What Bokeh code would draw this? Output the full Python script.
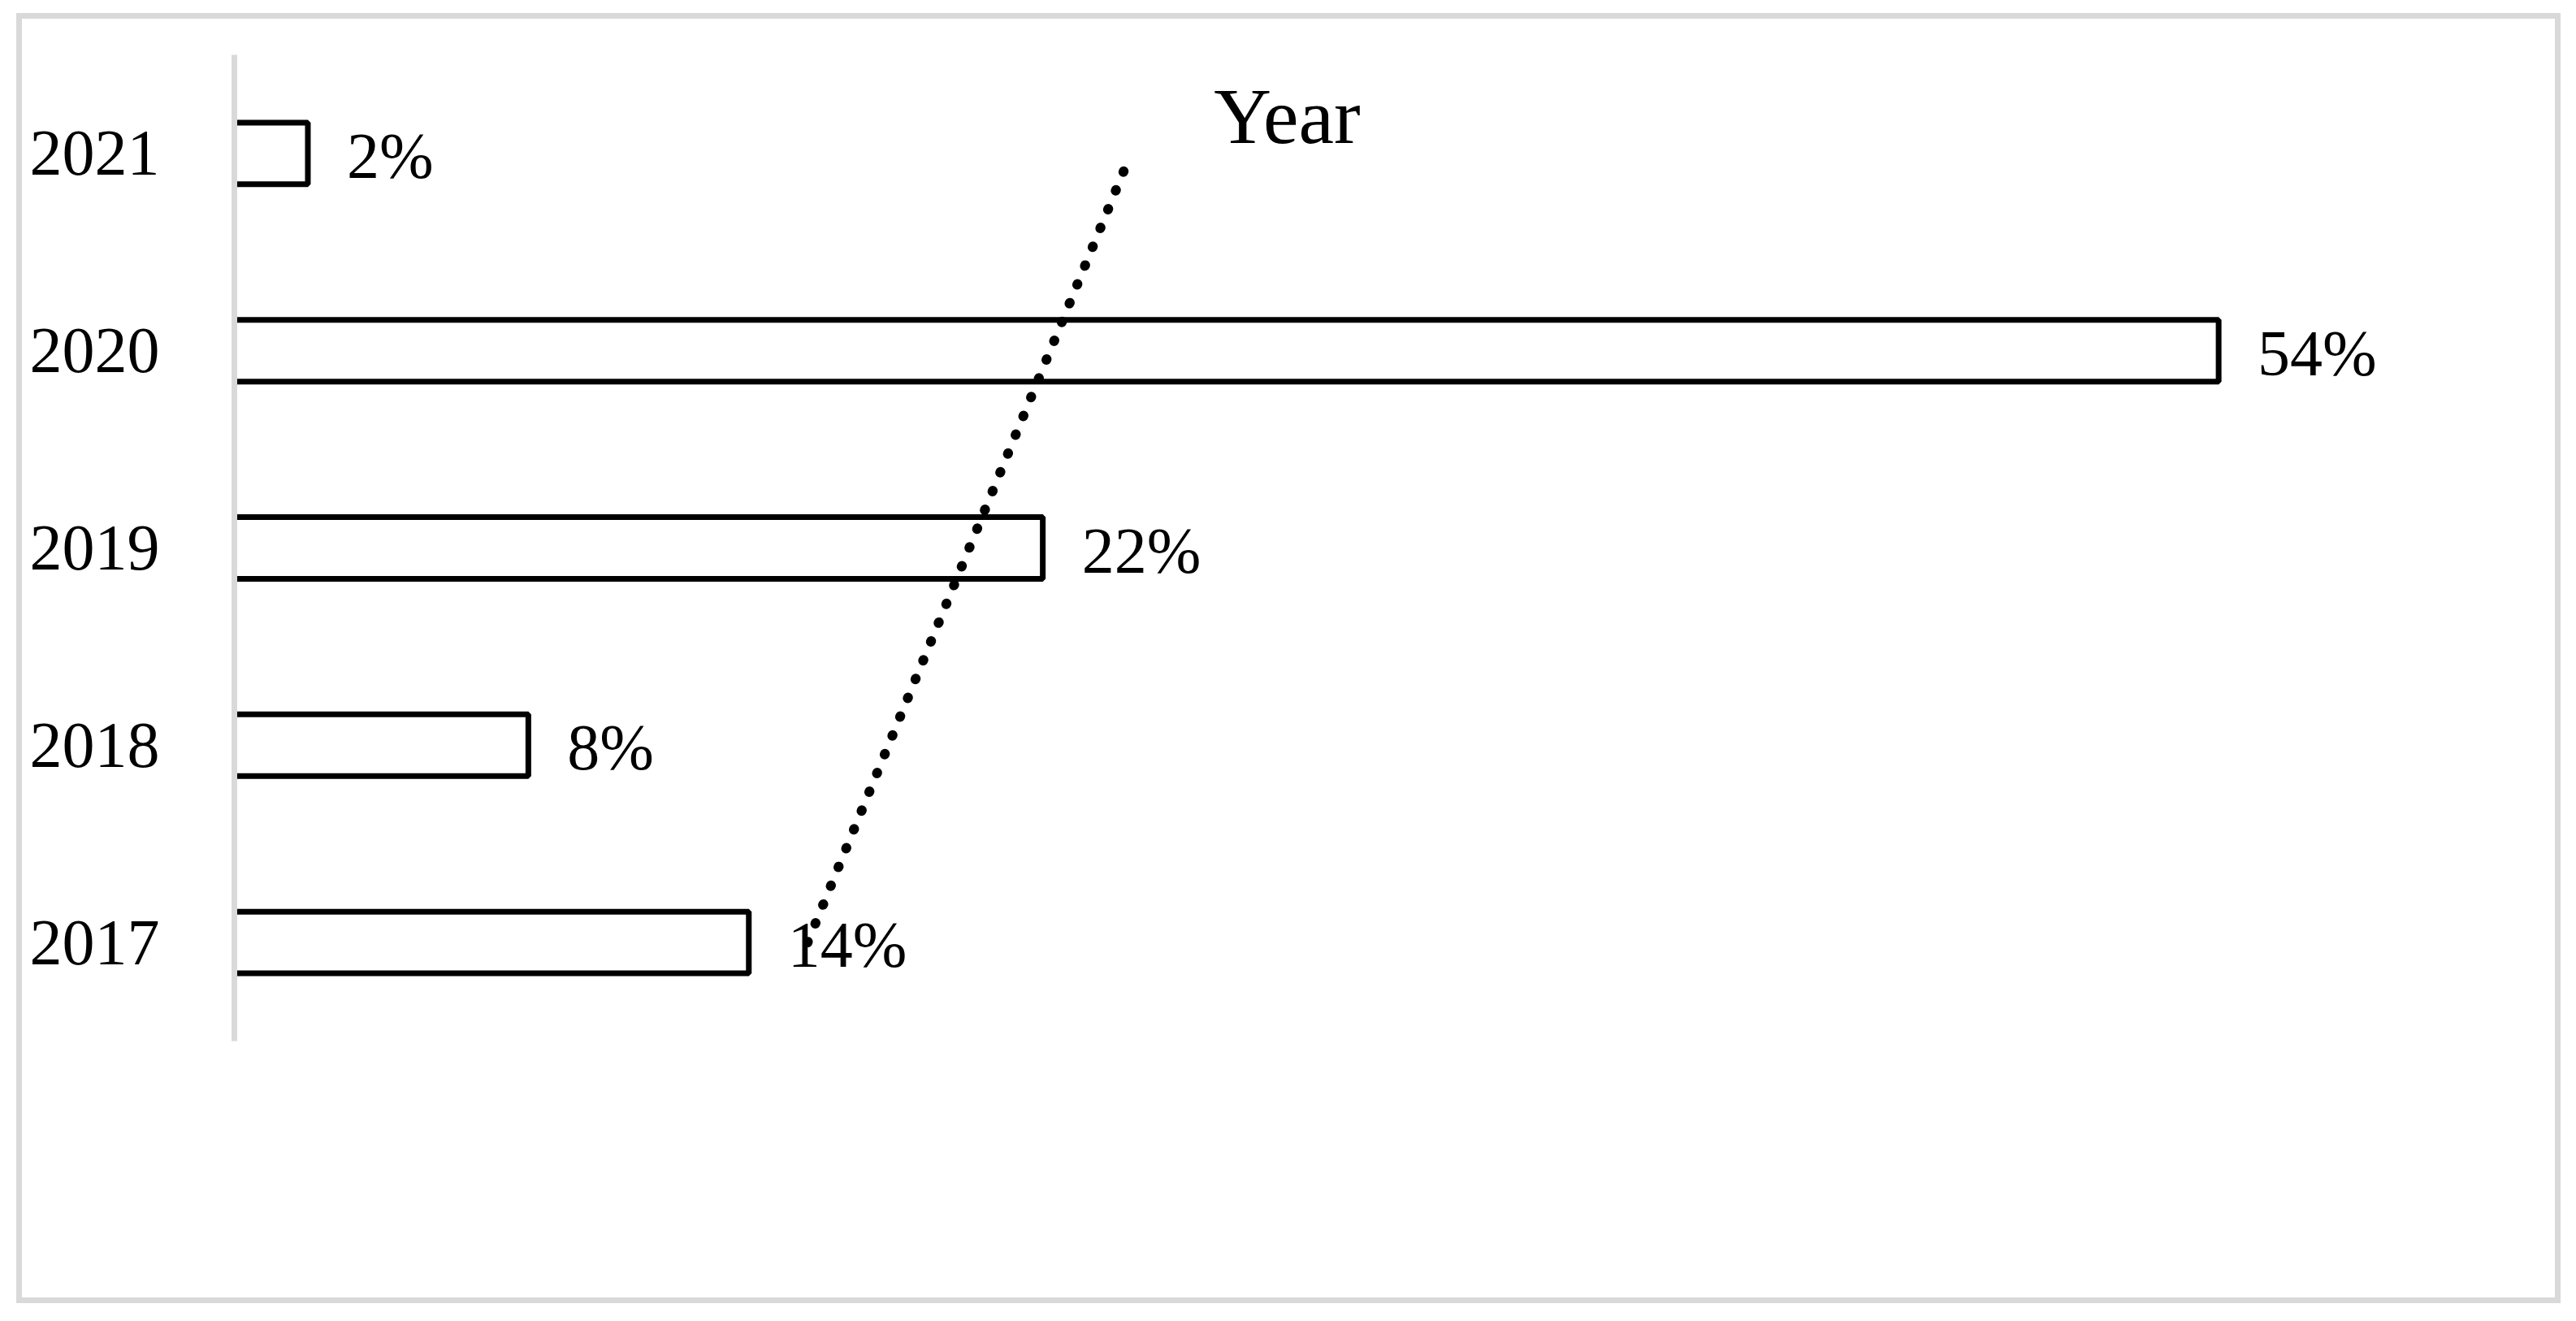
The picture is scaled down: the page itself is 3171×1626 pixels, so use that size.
import numpy as np
from bokeh.plotting import figure
from bokeh.layouts import column, row
from bokeh.models import ColumnDataSource, FactorRange, Range1d, Label, Spacer
from bokeh.core.properties import value
from bokeh.embed import file_html
from bokeh.resources import INLINE

# ---- data ----
years = ["2017", "2018", "2019", "2020", "2021"]
shares = [14, 8, 22, 54, 2]
share_labels = ["14%", "8%", "22%", "54%", "2%"]
title_text = "Year"

FONT = "Liberation Serif"

src = ColumnDataSource(dict(year=years, share=shares, label=share_labels))

p = figure(
    width=3118, height=1574,
    y_range=FactorRange(factors=years),
    x_range=Range1d(0, 60),
    x_axis_location=None,
    output_backend="svg",
    toolbar_location=None,
    title=None,
    min_border_left=261, min_border_top=44,
    min_border_bottom=330, min_border_right=157,
)
p.styles = {"border": "7px solid #D9D9D9", "box-sizing": "content-box"}
p.outline_line_color = None
p.background_fill_color = "white"
p.border_fill_color = "white"
p.xgrid.visible = False
p.ygrid.visible = False

p.hbar(y="year", left=0, right="share", height=0.3125, source=src,
       fill_color="white", line_color="black", line_width=7)

p.text(x="share", y="year", text="label", source=src,
       x_offset=48, y_offset=3, text_align="left", text_baseline="alphabetic",
       text_font=value(FONT), text_font_size="80px", text_color="black")

# linear trendline fitted to the series
idx = np.arange(1, len(shares) + 1)
m, b = np.polyfit(idx, shares, 1)
p.line(x=[m * idx[0] + b, m * idx[-1] + b], y=[years[0], years[-1]],
       line_color="black", line_width=12, line_dash="1 24", line_cap="round")

p.add_layout(Label(x=28.65, y=4.688, text=title_text, text_align="center",
                   text_baseline="alphabetic", text_font=FONT,
                   text_font_size="98px", text_color="black"))

ax = p.yaxis[0]
ax.axis_line_color = "#D9D9D9"
ax.axis_line_width = 7
ax.major_tick_line_color = None
ax.minor_tick_line_color = None
ax.major_tick_out = 0
ax.major_tick_in = 0
ax.major_label_standoff = 92
ax.major_label_text_font = FONT
ax.major_label_text_font_size = "80px"
ax.major_label_text_color = "black"

layout = column(Spacer(width=20, height=16),
                row(Spacer(width=20, height=10), p))

open("out.html", "w").write(file_html(layout, INLINE))
